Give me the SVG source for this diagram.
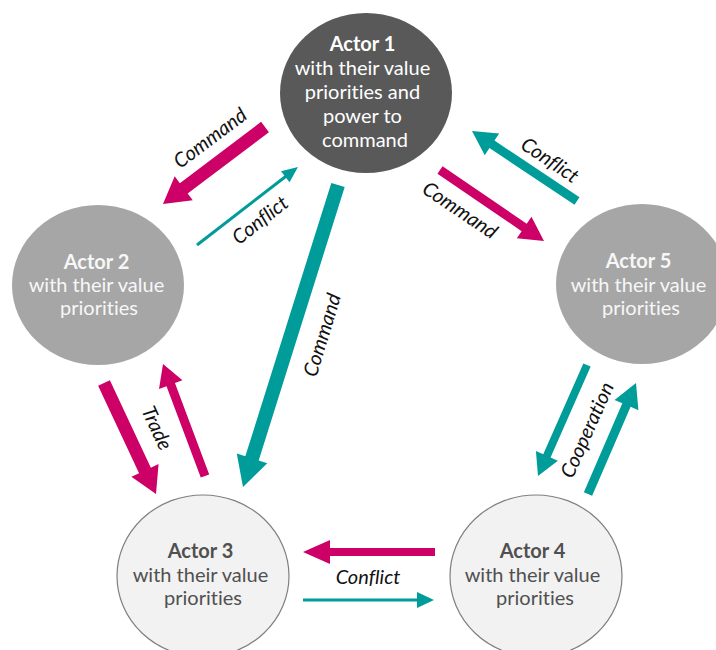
<svg xmlns="http://www.w3.org/2000/svg" width="716" height="650" viewBox="0 0 716 650">
  <style>
    text { font-variant-ligatures: none; font-feature-settings: "liga" 0, "clig" 0; }
    .node-text { font-family: Lato, "Open Sans", "Liberation Sans", sans-serif; font-size: 20px; text-anchor: middle; }
    .title { font-weight: bold; }
    .dark { fill: #595959; }
    .mid { fill: #A6A6A6; }
    .light { fill: #F2F2F2; stroke: #7F7F7F; stroke-width: 1.2; }
    .on-dark { fill: #FFFFFF; }
    .on-mid { fill: #F7F7F7; }
    .on-light { fill: #505050; }
    .magenta { fill: #CC0066; }
    .teal { fill: #009C99; }
    .label { font-family: Lato, "Open Sans", "Liberation Sans", sans-serif; font-size: 20px; font-style: italic; fill: #111111; text-anchor: middle; }
  </style>

  <rect width="716" height="650" fill="#FFFFFF"/>

  <!-- connectors: each arrow drawn along +x from its tail, then placed by translate/rotate -->
  <g id="connectors">
    <!-- Actor 1 -> Actor 2 : Command -->
    <path class="magenta" transform="translate(265,127) rotate(142.95)" d="M0,-6.5 L101.8,-6.5 L101.8,-15 L127.8,0 L101.8,15 L101.8,6.5 L0,6.5 Z"/>
    <!-- Actor 2 -> Actor 1 : Conflict -->
    <path class="teal" transform="translate(197,245) rotate(-37.7)" d="M0,-1.5 L111.6,-1.5 L111.6,-7 L127.6,0 L111.6,7 L111.6,1.5 L0,1.5 Z"/>
    <!-- Actor 1 -> Actor 3 : Command -->
    <path class="teal" transform="translate(338,185) rotate(107.46)" d="M0,-7 L286.6,-7 L286.6,-16 L316.6,0 L286.6,16 L286.6,7 L0,7 Z"/>
    <!-- Actor 2 -> Actor 3 : Trade -->
    <path class="magenta" transform="translate(104,383) rotate(64.9)" d="M0,-6.5 L96.6,-6.5 L96.6,-15 L122.6,0 L96.6,15 L96.6,6.5 L0,6.5 Z"/>
    <!-- Actor 3 -> Actor 2 : Trade -->
    <path class="magenta" transform="translate(205,476) rotate(-110.56)" d="M0,-4.5 L97.6,-4.5 L97.6,-12.5 L119.6,0 L97.6,12.5 L97.6,4.5 L0,4.5 Z"/>
    <!-- Actor 1 -> Actor 5 : Command -->
    <path class="magenta" transform="translate(440,170) rotate(34.32)" d="M0,-4.5 L101.9,-4.5 L101.9,-13 L125.9,0 L101.9,13 L101.9,4.5 L0,4.5 Z"/>
    <!-- Actor 5 -> Actor 1 : Conflict -->
    <path class="teal" transform="translate(577,201) rotate(-146.31)" d="M0,-4.5 L102.2,-4.5 L102.2,-13 L126.2,0 L102.2,13 L102.2,4.5 L0,4.5 Z"/>
    <!-- Actor 5 -> Actor 4 : Cooperation -->
    <path class="teal" transform="translate(587,365) rotate(113.82)" d="M0,-4 L99.3,-4 L99.3,-12 L121.3,0 L99.3,12 L99.3,4 L0,4 Z"/>
    <!-- Actor 4 -> Actor 5 : Cooperation -->
    <path class="teal" transform="translate(588,494) rotate(-66.6)" d="M0,-4.5 L96.9,-4.5 L96.9,-13 L120.9,0 L96.9,13 L96.9,4.5 L0,4.5 Z"/>
    <!-- Actor 4 -> Actor 3 : Conflict -->
    <path class="magenta" transform="translate(435,552) rotate(180)" d="M0,-4 L105,-4 L105,-12 L132,0 L105,12 L105,4 L0,4 Z"/>
    <!-- Actor 3 -> Actor 4 : Conflict -->
    <path class="teal" transform="translate(303,600)" d="M0,-1.5 L114,-1.5 L114,-8 L131,0 L114,8 L114,1.5 L0,1.5 Z"/>

    <!-- connector labels -->
    <text class="label" transform="translate(210,138) rotate(-37)" y="7">Command</text>
    <text class="label" transform="translate(260,220) rotate(-38)" y="7">Conflict</text>
    <text class="label" transform="translate(322,335) rotate(-73)" y="7">Command</text>
    <text class="label" transform="translate(157,428) rotate(65)" y="7">Trade</text>
    <text class="label" transform="translate(460,210) rotate(34)" y="7">Command</text>
    <text class="label" transform="translate(550,160) rotate(34)" y="7">Conflict</text>
    <text class="label" transform="translate(587,430) rotate(-66)" y="7">Cooperation</text>
    <text class="label" transform="translate(368,577)" y="7">Conflict</text>
  </g>

  <!-- actors -->
  <g id="actor1">
    <ellipse class="dark" cx="366" cy="93" rx="86" ry="80"/>
    <text class="node-text on-dark">
      <tspan class="title" x="365" y="51">Actor 1</tspan>
      <tspan x="365" y="75">with their value</tspan>
      <tspan x="365" y="99">priorities and</tspan>
      <tspan x="365" y="123">power to</tspan>
      <tspan x="365" y="147">command</tspan>
    </text>
  </g>

  <g id="actor2">
    <ellipse class="mid" cx="98" cy="285" rx="86" ry="80"/>
    <text class="node-text on-mid">
      <tspan class="title" x="99" y="269">Actor 2</tspan>
      <tspan x="99" y="292">with their value</tspan>
      <tspan x="99" y="315">priorities</tspan>
    </text>
  </g>

  <g id="actor5">
    <ellipse class="mid" cx="642" cy="284" rx="86" ry="80"/>
    <text class="node-text on-mid">
      <tspan class="title" x="641" y="268">Actor 5</tspan>
      <tspan x="641" y="292">with their value</tspan>
      <tspan x="641" y="315">priorities</tspan>
    </text>
  </g>

  <g id="actor3">
    <ellipse class="light" cx="203" cy="576" rx="86" ry="81"/>
    <text class="node-text on-light">
      <tspan class="title" x="203" y="558">Actor 3</tspan>
      <tspan x="203" y="582">with their value</tspan>
      <tspan x="203" y="605">priorities</tspan>
    </text>
  </g>

  <g id="actor4">
    <ellipse class="light" cx="536" cy="576" rx="86" ry="81"/>
    <text class="node-text on-light">
      <tspan class="title" x="535" y="558">Actor 4</tspan>
      <tspan x="535" y="582">with their value</tspan>
      <tspan x="535" y="605">priorities</tspan>
    </text>
  </g>
</svg>
